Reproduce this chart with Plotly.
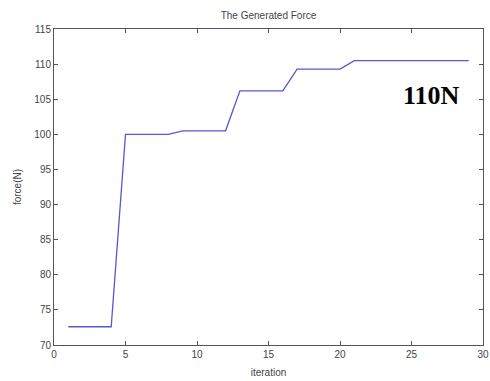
import plotly.graph_objects as go

iterations = list(range(1, 30))
force = [72.6, 72.6, 72.6, 72.6,
         100.0, 100.0, 100.0, 100.0,
         100.5, 100.5, 100.5, 100.5,
         106.2, 106.2, 106.2, 106.2,
         109.3, 109.3, 109.3, 109.3,
         110.5, 110.5, 110.5, 110.5, 110.5, 110.5, 110.5, 110.5, 110.5]
x_ticks = [0, 5, 10, 15, 20, 25, 30]
y_ticks = [70, 75, 80, 85, 90, 95, 100, 105, 110, 115]

fig = go.Figure()
fig.add_trace(go.Scatter(x=iterations, y=force, mode="lines",
                         line=dict(color="#5558d0", width=1.3)))

axis_common = dict(showgrid=False, zeroline=False, showline=True, linecolor="#555555",
                   linewidth=1, mirror="ticks", ticks="inside", ticklen=4, automargin=False,
                   tickcolor="#555555", tickfont=dict(family="Liberation Sans", size=10, color="#444444"))

fig.update_xaxes(range=[0, 30], tickvals=x_ticks,
                 title=dict(text="iteration", font=dict(family="Liberation Sans", size=10, color="#444444"), standoff=9),
                 **axis_common)
fig.update_yaxes(range=[70, 115], tickvals=y_ticks,
                 title=dict(text="force(N)", font=dict(family="Liberation Sans", size=10, color="#444444"), standoff=10),
                 **axis_common)

fig.add_annotation(x=26.4, y=105.6, text="<b>110N</b>", showarrow=False,
                   font=dict(family="Liberation Serif", size=26, color="black"))

fig.update_layout(
    width=490, height=381,
    margin=dict(l=54, r=7, t=29, b=36),
    paper_bgcolor="white", plot_bgcolor="white",
    showlegend=False,
    title=dict(text="The Generated Force", x=(54 + 483) / 2 / 490, xanchor="center",
               y=1 - 15 / 381, yanchor="middle",
               font=dict(family="Liberation Sans", size=10, color="#444444")),
)

fig.write_html("out.html", config={"displayModeBar": False},
               post_script="document.body.style.margin='0';")
